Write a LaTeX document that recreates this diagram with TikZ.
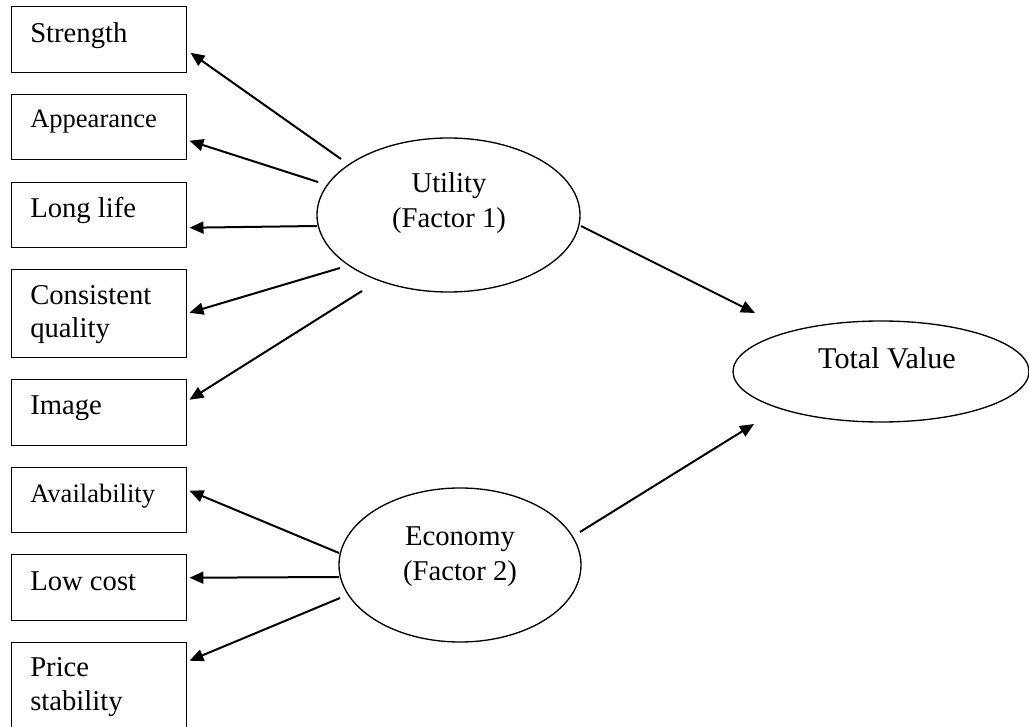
\documentclass[tikz,border=0pt]{standalone}
\usepackage{fontspec}
\setmainfont{Liberation Serif}
\usetikzlibrary{arrows.meta,calc,shapes.geometric}
\begin{document}
\begin{tikzpicture}[x=0.75pt,y=-0.75pt,
  boxnode/.style={draw,line width=1.1pt,inner sep=0pt,anchor=north west,minimum width=131.25pt},
  lab/.style={inner sep=0pt,anchor=base west,font=\fontsize{21.5}{25}\selectfont,align=left},
  smalllab/.style={inner sep=0pt,anchor=base west,font=\fontsize{19.9}{24}\selectfont},
  oval/.style={draw,ellipse,line width=1pt,inner sep=0pt},
  ovallab/.style={inner sep=0pt,anchor=base,font=\fontsize{21.5}{26.25}\selectfont,align=center},
  arr/.style={line width=1.5pt,-{Triangle[length=10.5pt,width=9pt]}}]
\useasboundingbox (0,0) rectangle (1029,727);
% boxes
\node[boxnode,minimum height=49.5pt] (strength) at (11,6) {};
\node[boxnode,minimum height=48.75pt] (appearance) at (11,94) {};
\node[boxnode,minimum height=48.75pt] (longlife) at (11,182) {};
\node[boxnode,minimum height=66pt] (consistent) at (11,269) {};
\node[boxnode,minimum height=49.5pt] (image) at (11,379) {};
\node[boxnode,minimum height=48.75pt] (availability) at (11,467) {};
\node[boxnode,minimum height=49.5pt] (lowcost) at (11,554) {};
\node[boxnode,minimum height=66pt] (price) at (11,642) {};
% box texts (anchor = baseline of the last line)
\node[lab] (strength-t) at ($(strength.north west)+(19,37)$) {Strength};
\node[smalllab] (appearance-t) at ($(appearance.north west)+(19,34)$) {Appearance};
\node[lab] (longlife-t) at ($(longlife.north west)+(19,36)$) {Long life};
\node[lab] (consistent-t) at ($(consistent.north west)+(19,69)$) {Consistent\\quality};
\node[lab] (image-t) at ($(image.north west)+(19,36)$) {Image};
\node[smalllab] (availability-t) at ($(availability.north west)+(19,35)$) {Availability};
\node[lab] (lowcost-t) at ($(lowcost.north west)+(19,36)$) {Low cost};
\node[lab] (price-t) at ($(price.north west)+(19,68)$) {Price\\stability};
% ellipses
\node[oval,minimum width=197.25pt,minimum height=115.5pt] (util) at (448.5,215) {};
\node[oval,minimum width=181.5pt,minimum height=115.5pt] (econ) at (460,565) {};
\node[oval,minimum width=222pt,minimum height=75.75pt] (total) at (881,371.5) {};
\node[ovallab] (util-t) at (449,228) {Utility\\(Factor 1)};
\node[ovallab] (econ-t) at (460,580) {Economy\\(Factor 2)};
\node[ovallab,font=\fontsize{22.6}{26}\selectfont] (total-t) at (887,369) {Total Value};
% arrows
\draw[arr] ($(util.center)+(-107.5,-56)$) -- ($(strength.east)+(3,13)$);
\draw[arr] ($(util.center)+(-130.5,-33)$) -- ($(appearance.east)+(2,13.5)$);
\draw[arr] ($(util.center)+(-131.5,11)$) -- ($(longlife.east)+(2,12.5)$);
\draw[arr] ($(util.center)+(-108.5,53)$) -- ($(consistent.east)+(2,-1)$);
\draw[arr] ($(util.center)+(-86.5,76)$) -- ($(image.east)+(2,-13)$);
\draw[arr] ($(econ.center)+(-121,-12)$) -- ($(availability.east)+(2,-9.5)$);
\draw[arr] ($(econ.center)+(-121,12)$) -- ($(lowcost.east)+(2,-10)$);
\draw[arr] ($(econ.center)+(-120,33)$) -- ($(price.east)+(2,-26)$);
\draw[arr] ($(util.center)+(132.5,11)$) -- ($(total.center)+(-126,-58.5)$);
\draw[arr] ($(econ.center)+(120,-33)$) -- ($(total.center)+(-127,52.5)$);
\end{tikzpicture}
\end{document}
